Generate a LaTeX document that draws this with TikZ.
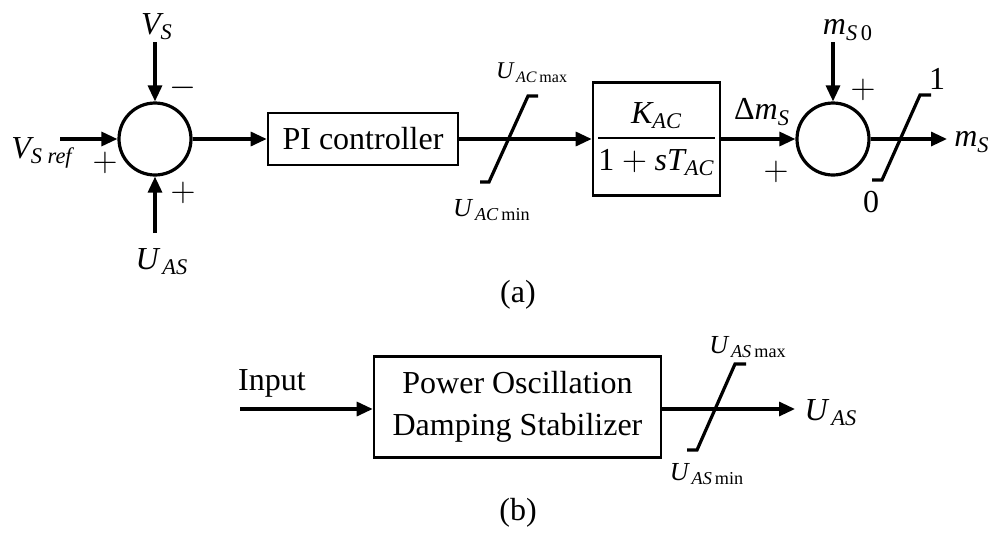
\documentclass[tikz,border=0pt]{standalone}
\usepackage{amsmath}
\usepackage{fontspec}
\setmainfont{Liberation Serif}
\usetikzlibrary{arrows.meta}
\newcommand{\vi}[1]{\textit{#1}}
\begin{document}
\begin{tikzpicture}[x=0.5pt,y=-0.5pt,
  font=\fontsize{16}{19}\selectfont,
  conn/.style={line width=1.6pt,-{Triangle[length=8pt,width=7pt]}},
  sumc/.style={circle,draw,line width=1.6pt,minimum size=36pt,inner sep=0pt},
  blk/.style={draw,line width=1.3pt,inner sep=0pt,align=center},
  lbl/.style={inner sep=0pt},
  small/.style={inner sep=0pt,font=\fontsize{13}{15}\selectfont},
  tiny/.style={inner sep=0pt,font=\fontsize{12}{14}\selectfont},
  sat/.style={line width=1.6pt}]
\useasboundingbox (0,0) rectangle (996,532);

% ---------------- (a) ----------------
\node[sumc] (s1) at (155,139) {};
\coordinate (vs) at (155,42);
\coordinate (vsref) at (60,139);
\coordinate (uas) at (155,233);
\draw[conn] (vs) -- (s1.north);
\draw[conn] (vsref) -- (s1.west);
\draw[conn] (uas) -- (s1.south);
\node[lbl] (lvs) at (157,27) {$\vi{V}_{\vi{S}}$};
\node[lbl] (lvsref) at (42,153) {$\vi{V}_{\vi{S ref}}$};
\node[lbl] (luas) at (162,262) {$\vi{U}_{\,\vi{AS}}$};
\node[lbl] (m1) at (183,88) {$-$};
\node[lbl] (p1) at (105,163) {$+$};
\node[lbl] (p2) at (183,193) {$+$};

\node[blk,minimum width=95pt,minimum height=26pt] (pi) at (363,139) {PI controller};
\draw[conn] (s1.east) -- (pi.west);

\node[blk,minimum width=63.5pt,minimum height=56.5pt] (kac) at (656.5,139)
  {$\dfrac{\vi{K}_{\vi{AC}}}{\text{1}+\vi{sT}_{\vi{AC}}}$};
\draw[conn] (pi.east) -- (kac.west);
\draw[sat] (480,182) -- (489,182) -- (528,96) -- (538,96);
\node[tiny] (lacmax) at (532,73) {$\vi{U}_{\,\vi{AC}\,\text{max}}$};
\node[small] (lacmin) at (492,210) {$\vi{U}_{\,\vi{AC}\,\text{min}}$};

\node[sumc] (s2) at (833,139) {};
\draw[conn] (kac.east) -- (s2.west);
\coordinate (ms0) at (833,42);
\draw[conn] (ms0) -- (s2.north);
\node[lbl] (lms0) at (848,30) {$\vi{m}_{\vi{S}\,\text{0}}$};
\node[lbl] (p3) at (863,90) {$+$};
\node[lbl] (ldm) at (762,112) {$\text{Δ}\vi{m}_{\vi{S}}$};
\node[lbl] (p4) at (776,172) {$+$};
\coordinate (msout) at (947,139);
\draw[conn] (s2.east) -- (msout);
\node[lbl] (lms) at (972,142) {$\vi{m}_{\vi{S}}$};
\draw[sat] (872,180) -- (882,180) -- (920,95) -- (931,95);
\node[lbl] (l1) at (937,79) {1};
\node[lbl] (l0) at (871,202) {0};

\node[lbl] (capa) at (518,295) {(a)};

% ---------------- (b) ----------------
\node[blk,minimum width=143.5pt,minimum height=50.5pt] (pod) at (517.5,407)
  {Power Oscillation\\[2pt]Damping Stabilizer};
\coordinate (inp) at (240,409);
\draw[conn] (inp) -- (inp -| pod.west);
\node[lbl] (linp) at (272,383) {Input};
\coordinate (uasout) at (795,409);
\draw[conn] (uasout -| pod.east) -- (uasout);
\node[lbl] (luasb) at (831,413) {$\vi{U}_{\,\vi{AS}}$};
\draw[sat] (687,450) -- (697,450) -- (735,364) -- (746,364);
\node[small] (lasmax) at (748,347) {$\vi{U}_{\,\vi{AS}\,\text{max}}$};
\node[small] (lasmin) at (707,474) {$\vi{U}_{\,\vi{AS}\,\text{min}}$};

\node[lbl] (capb) at (518,513) {(b)};
\end{tikzpicture}
\end{document}
